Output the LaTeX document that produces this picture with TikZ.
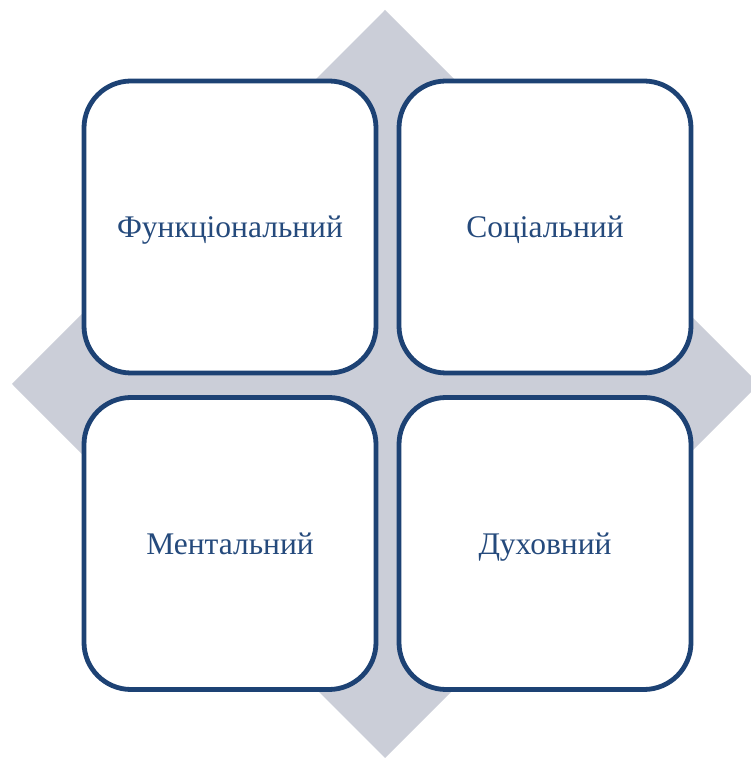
\documentclass[tikz,border=0pt]{standalone}
\usepackage{fontspec}
\setmainfont{Liberation Serif}
\definecolor{bordc}{HTML}{1D4274}
\definecolor{diamc}{HTML}{CBCED8}
\definecolor{txtc}{HTML}{254A7C}
\tikzset{
  quad/.style={draw=bordc, line width=4.8pt, fill=white, rounded corners=47pt,
    minimum width=292pt, minimum height=292pt, inner sep=0pt, outer sep=0pt,
    text height=26pt, text depth=4pt,
    text=txtc, font=\fontsize{31.5}{36}\selectfont},
}
\begin{document}
\begin{tikzpicture}[x=1pt,y=1pt]
\useasboundingbox (0,0) rectangle (751,758);
\begin{scope}
\clip (0,0) rectangle (751,758);
\fill[diamc] (385,748) coordinate (dt) -- (759,374) coordinate (dr) -- (385,0) coordinate (db) -- (12,374) coordinate (dl) -- cycle;
\end{scope}
\node[quad] (f) at (230,531) {Функціональний};
\node[quad] (s) at (545,531) {Соціальний};
\node[quad] (m) at (230,214.5) {Ментальний};
\node[quad] (d) at (545,214.5) {Духовний};
\end{tikzpicture}
\end{document}
